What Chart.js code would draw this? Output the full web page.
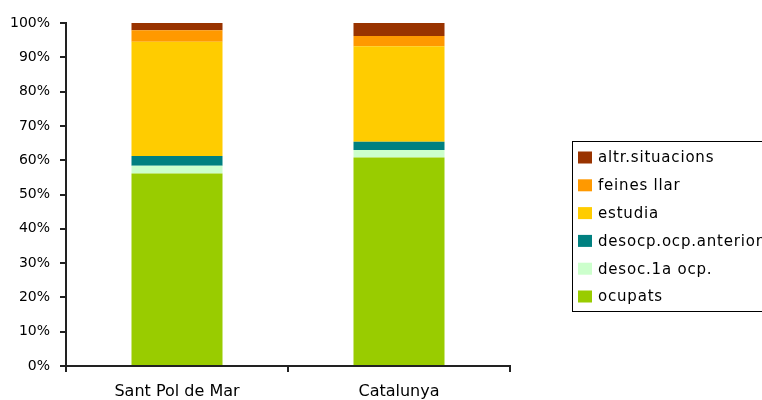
<!DOCTYPE html>
<html>
<head>
<meta charset="utf-8">
<script src="https://cdn.jsdelivr.net/npm/chart.js@4.4.1/dist/chart.umd.min.js"></script>
<style>
  html, body { margin: 0; padding: 0; background: #fff; }
  canvas { display: block; }
</style>
</head>
<body>
<canvas id="chart" width="762" height="400"></canvas>
<script>
const categories = ['Sant Pol de Mar', 'Catalunya'];

// percentages
const ocupats        = [56.1, 60.8];
const desoc1a        = [2.3, 2.2];
const desocpAnterior = [2.8, 2.4];
const estudia        = [33.3, 27.8];
const feinesLlar     = [3.4, 3.0];
const altrSituacions = [2.1, 3.8];

const yTicks = [0, 10, 20, 30, 40, 50, 60, 70, 80, 90, 100];

const FONT = 'DejaVu Sans';

// legend drawn in a bordered box at the right, like the original
const boxLegend = {
    id: 'boxLegend',
    afterDraw(chart) {
        const ctx = chart.ctx;
        const sets = chart.data.datasets.slice().reverse();
        ctx.save();
        ctx.strokeStyle = '#000';
        ctx.lineWidth = 1;
        ctx.strokeRect(572.5, 141.5, 220, 170);
        ctx.font = '15px "' + FONT + '"';
        ctx.letterSpacing = '0.8px';
        ctx.textBaseline = 'middle';
        sets.forEach((ds, i) => {
            const cy = 157.5 + i * 27.8;
            ctx.fillStyle = ds.backgroundColor;
            ctx.fillRect(578, cy - 6, 14, 12);
            ctx.fillStyle = '#000';
            ctx.fillText(ds.label, 598, cy + 1);
        });
        ctx.restore();
    }
};

const ctx = document.getElementById('chart');

new Chart(ctx, {
    type: 'bar',
    data: {
        labels: categories,
        datasets: [
            { label: 'ocupats', data: ocupats, backgroundColor: '#99CC00' },
            { label: 'desoc.1a ocp.', data: desoc1a, backgroundColor: '#CCFFCC' },
            { label: 'desocp.ocp.anterior', data: desocpAnterior, backgroundColor: '#008080' },
            { label: 'estudia', data: estudia, backgroundColor: '#FFCC00' },
            { label: 'feines llar', data: feinesLlar, backgroundColor: '#FF9900' },
            { label: 'altr.situacions', data: altrSituacions, backgroundColor: '#993300' }
        ]
    },
    options: {
        responsive: false,
        animation: false,
        layout: { padding: { top: 23, right: 252, left: 0, bottom: 0 } },
        datasets: {
            bar: { categoryPercentage: 1, barPercentage: 0.41 }
        },
        plugins: {
            legend: { display: false },
            tooltip: { enabled: false }
        },
        scales: {
            x: {
                stacked: true,
                afterFit: s => { s.height = 34; },
                grid: {
                    drawOnChartArea: false,
                    offset: true,
                    tickLength: 6,
                    lineWidth: 2,
                    color: '#222'
                },
                border: { color: '#222', width: 2 },
                ticks: {
                    color: '#000',
                    padding: 10,
                    font: { family: FONT, size: 16 }
                }
            },
            y: {
                stacked: true,
                min: 0,
                max: 100,
                afterFit: s => { s.width = 66; },
                afterBuildTicks: s => { s.ticks = yTicks.map(v => ({ value: v })); },
                grid: {
                    drawOnChartArea: false,
                    tickLength: 6,
                    lineWidth: 2,
                    color: '#222'
                },
                border: { color: '#222', width: 2 },
                ticks: {
                    color: '#000',
                    padding: 10,
                    font: { family: FONT, size: 14 },
                    callback: v => v + '%'
                }
            }
        }
    },
    plugins: [boxLegend]
});
</script>
</body>
</html>
